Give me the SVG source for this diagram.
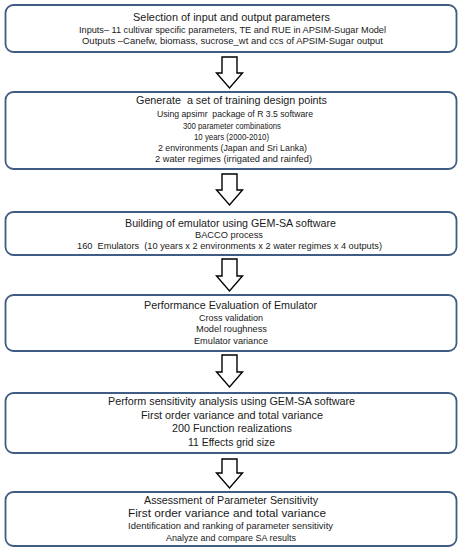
<svg xmlns="http://www.w3.org/2000/svg" width="461" height="550" viewBox="0 0 461 550">
<style>
.box{fill:#fff;stroke:#3f5d84;stroke-width:1.8}
.arr{fill:#fff;stroke:#000;stroke-width:1.4;stroke-linejoin:miter}
text{font-family:"Liberation Sans",Arial,sans-serif;fill:#1a1a1a;text-anchor:middle;white-space:pre}
.t{font-size:11px}
.m{font-size:10.5px}
.s{font-size:9px}
</style>
<rect width="461" height="550" fill="#fff"/>
<g id="connectors">
<path class="arr" d="M222,57 H237 V73 H242.5 L229.5,88 L216.5,73 H222 Z"/>
<path class="arr" d="M222,174 H237 V190 H242.5 L229.5,205 L216.5,190 H222 Z"/>
<path class="arr" d="M222,259 H237 V276 H242.5 L229.5,291 L216.5,276 H222 Z"/>
<path class="arr" d="M222,355 H237 V372 H242.5 L229.5,387 L216.5,372 H222 Z"/>
<path class="arr" d="M222,459 H237 V473 H242.5 L229.5,488 L216.5,473 H222 Z"/>
</g>
<g id="n1">
<rect class="box" x="5.5" y="5" width="451" height="47" rx="8"/>
<text class="t" x="231.5" y="21" textLength="197" lengthAdjust="spacingAndGlyphs">Selection of input and output parameters</text>
<text class="s" x="232.5" y="33" textLength="307" lengthAdjust="spacingAndGlyphs">Inputs– 11 cultivar specific parameters, TE and RUE in APSIM-Sugar Model</text>
<text class="s" x="232.5" y="44" textLength="301" lengthAdjust="spacingAndGlyphs">Outputs –Canefw, biomass, sucrose_wt and ccs of APSIM-Sugar output</text>
</g>
<g id="n2">
<rect class="box" x="5.5" y="92" width="451" height="77" rx="8"/>
<text class="t" x="231.5" y="104" textLength="191" lengthAdjust="spacingAndGlyphs">Generate  a set of training design points</text>
<text class="s" x="235" y="117" textLength="156" lengthAdjust="spacingAndGlyphs">Using apsimr  package of R 3.5 software</text>
<text class="s" x="232" y="128.5" textLength="98" lengthAdjust="spacingAndGlyphs">300 parameter combinations</text>
<text class="s" x="231.5" y="139.5" textLength="75" lengthAdjust="spacingAndGlyphs">10 years (2000-2010)</text>
<text class="s" x="232.5" y="150.5" textLength="149" lengthAdjust="spacingAndGlyphs">2 environments (Japan and Sri Lanka)</text>
<text class="s" x="233.5" y="161.5" textLength="157" lengthAdjust="spacingAndGlyphs">2 water regimes (irrigated and rainfed)</text>
</g>
<g id="n3">
<rect class="box" x="5.5" y="212" width="451" height="43" rx="8"/>
<text class="t" x="230.5" y="227" textLength="211" lengthAdjust="spacingAndGlyphs">Building of emulator using GEM-SA software</text>
<text class="s" x="229" y="237.5" textLength="68" lengthAdjust="spacingAndGlyphs">BACCO process</text>
<text class="s" x="229.5" y="248.5" textLength="305" lengthAdjust="spacingAndGlyphs">160  Emulators  (10 years x 2 environments x 2 water regimes x 4 outputs)</text>
</g>
<g id="n4">
<rect class="box" x="5.5" y="295" width="451" height="56" rx="8"/>
<text class="t" x="230.5" y="309" textLength="173" lengthAdjust="spacingAndGlyphs">Performance Evaluation of Emulator</text>
<text class="s" x="231" y="320.5" textLength="64" lengthAdjust="spacingAndGlyphs">Cross validation</text>
<text class="s" x="231.5" y="332" textLength="71" lengthAdjust="spacingAndGlyphs">Model roughness</text>
<text class="s" x="231" y="343.5" textLength="74" lengthAdjust="spacingAndGlyphs">Emulator variance</text>
</g>
<g id="n5">
<rect class="box" x="5.5" y="393" width="451" height="60" rx="8"/>
<text class="t" x="231.5" y="405" textLength="247" lengthAdjust="spacingAndGlyphs">Perform sensitivity analysis using GEM-SA software</text>
<text class="m" x="232" y="418.5" textLength="182" lengthAdjust="spacingAndGlyphs">First order variance and total variance</text>
<text class="m" x="232" y="432" textLength="120" lengthAdjust="spacingAndGlyphs">200 Function realizations</text>
<text class="m" x="231.5" y="445.5" textLength="87" lengthAdjust="spacingAndGlyphs">11 Effects grid size</text>
</g>
<g id="n6">
<rect class="box" x="5.5" y="492" width="451" height="54" rx="8"/>
<text class="t" x="231" y="503.5" textLength="174" lengthAdjust="spacingAndGlyphs">Assessment of Parameter Sensitivity</text>
<text class="t" x="227" y="516.5" textLength="198" lengthAdjust="spacingAndGlyphs">First order variance and total variance</text>
<text class="s" x="230.5" y="529" textLength="205" lengthAdjust="spacingAndGlyphs">Identification and ranking of parameter sensitivity</text>
<text class="s" x="231" y="541" textLength="130" lengthAdjust="spacingAndGlyphs">Analyze and compare SA results</text>
</g>
</svg>
